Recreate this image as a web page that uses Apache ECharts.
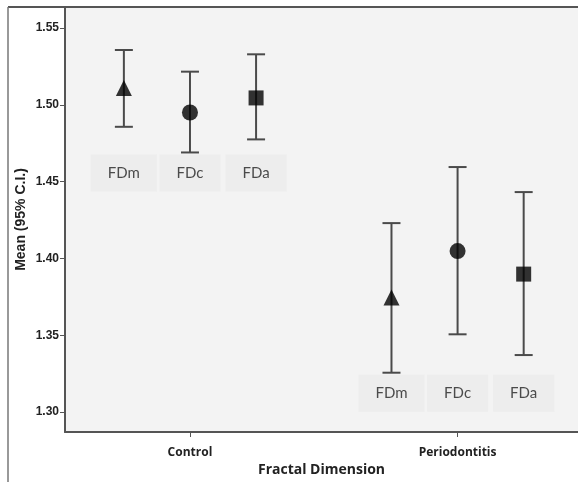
<!DOCTYPE html>
<html><head><meta charset="utf-8">
<script src="https://cdn.jsdelivr.net/npm/echarts@6/dist/echarts.min.js"></script>
<style>html,body{margin:0;padding:0;background:#fff}#c{width:578px;height:482px}</style>
</head><body><div id="c"></div>
<script>
var groups = ['Control', 'Periodontitis'];
var measures = ['FDm', 'FDc', 'FDa'];
var means = [[1.511, 1.495, 1.5045], [1.3745, 1.4048, 1.3898]];
var lowers = [[1.4857, 1.469, 1.4775], [1.3256, 1.3506, 1.3371]];
var uppers = [[1.5357, 1.5216, 1.5329], [1.423, 1.4595, 1.4432]];
var yTicks = [1.30, 1.35, 1.40, 1.45, 1.50, 1.55];
var symbols = ['triangle', 'circle', 'rect'];

var offset = 0.247;
function xPos(g, m) { return g + (m - 1) * offset; }

var series = [];
var ebData = [];
for (var g = 0; g < groups.length; g++) for (var m = 0; m < measures.length; m++)
  ebData.push([xPos(g, m), lowers[g][m], uppers[g][m]]);
series.push({
  type: 'custom', silent: true, z: 2,
  renderItem: function (params, api) {
    var x = api.value(0), lo = api.coord([x, api.value(1)]), hi = api.coord([x, api.value(2)]);
    var w = 9, st = { stroke: '#4a4a4a', lineWidth: 2 };
    return { type: 'group', children: [
      { type: 'line', shape: { x1: lo[0], y1: lo[1], x2: hi[0], y2: hi[1] }, style: st },
      { type: 'line', shape: { x1: lo[0] - w, y1: lo[1], x2: lo[0] + w, y2: lo[1] }, style: st },
      { type: 'line', shape: { x1: hi[0] - w, y1: hi[1], x2: hi[0] + w, y2: hi[1] }, style: st }
    ]};
  },
  data: ebData
});
for (var m = 0; m < measures.length; m++) {
  var d = [];
  for (var g = 0; g < groups.length; g++) d.push([xPos(g, m), means[g][m]]);
  series.push({ type: 'scatter', name: measures[m], symbol: symbols[m],
    symbolSize: m === 2 ? 15 : 16, itemStyle: { color: '#000' }, z: 3, data: d });
}
var lblData = [];
for (var g = 0; g < groups.length; g++) {
  var minLo = Math.min.apply(null, lowers[g]);
  for (var m = 0; m < measures.length; m++)
    lblData.push({ value: [xPos(g, m), minLo - 0.0133], label: { formatter: measures[m] } });
}
series.push({ type: 'scatter', symbolSize: 0, silent: true, z: 1,
  label: { show: true, position: 'inside', color: '#222', fontFamily: 'Lato', fontSize: 15,
    backgroundColor: '#ebebeb', padding: [11, 17, 11, 17] },
  data: lblData });

var chart = echarts.init(document.getElementById('c'), null, { renderer: 'canvas' });
chart.setOption({
  animation: false,
  backgroundColor: '#fff',
  grid: { left: 65, top: 7, right: 0, bottom: 50, show: true, backgroundColor: '#f3f3f3',
    borderWidth: 0, borderColor: 'transparent', outerBoundsMode: 'none', containLabel: false },
  xAxis: {
    type: 'value', min: -0.467, max: 1.45,
    name: 'Fractal Dimension', nameLocation: 'middle', nameGap: 31, nameMoveOverlap: false,
    nameTextStyle: { fontFamily: 'Open Sans', fontWeight: 'bold', fontSize: 14, color: '#222' },
    axisLine: { show: true, onZero: false, lineStyle: { color: '#555', width: 2 } },
    axisTick: { show: true, customValues: [0, 1], length: 5, lineStyle: { color: '#555' } },
    axisLabel: { customValues: [0, 1], formatter: function (v) { return groups[Math.round(v)]; },
      fontFamily: 'Open Sans', fontWeight: 'bold', fontSize: 12, color: '#222', margin: 15 },
    splitLine: { show: false }
  },
  yAxis: {
    type: 'value', min: 1.287, max: 1.5637,
    name: 'Mean (95% C.I.)', nameLocation: 'middle', nameGap: 37, nameRotate: 90, nameMoveOverlap: false,
    nameTextStyle: { fontFamily: 'Liberation Sans', fontWeight: 'bold', fontSize: 14, color: '#222' },
    axisLine: { show: true, onZero: false, lineStyle: { color: '#555', width: 2 } },
    axisTick: { show: true, customValues: yTicks, length: 5, lineStyle: { color: '#555' } },
    axisLabel: { customValues: yTicks, formatter: function (v) { return v.toFixed(2); },
      fontFamily: 'Liberation Sans', fontWeight: 'bold', fontSize: 12, color: '#222', margin: 6 },
    splitLine: { show: false }
  },
  graphic: [
    { type: 'line', shape: { x1: 8, y1: 7, x2: 578, y2: 7 }, style: { stroke: '#555', lineWidth: 2 } },
    { type: 'line', shape: { x1: 8, y1: 7, x2: 8, y2: 482 }, style: { stroke: '#777', lineWidth: 1.5 } }
  ],
  series: series
});
</script></body></html>
